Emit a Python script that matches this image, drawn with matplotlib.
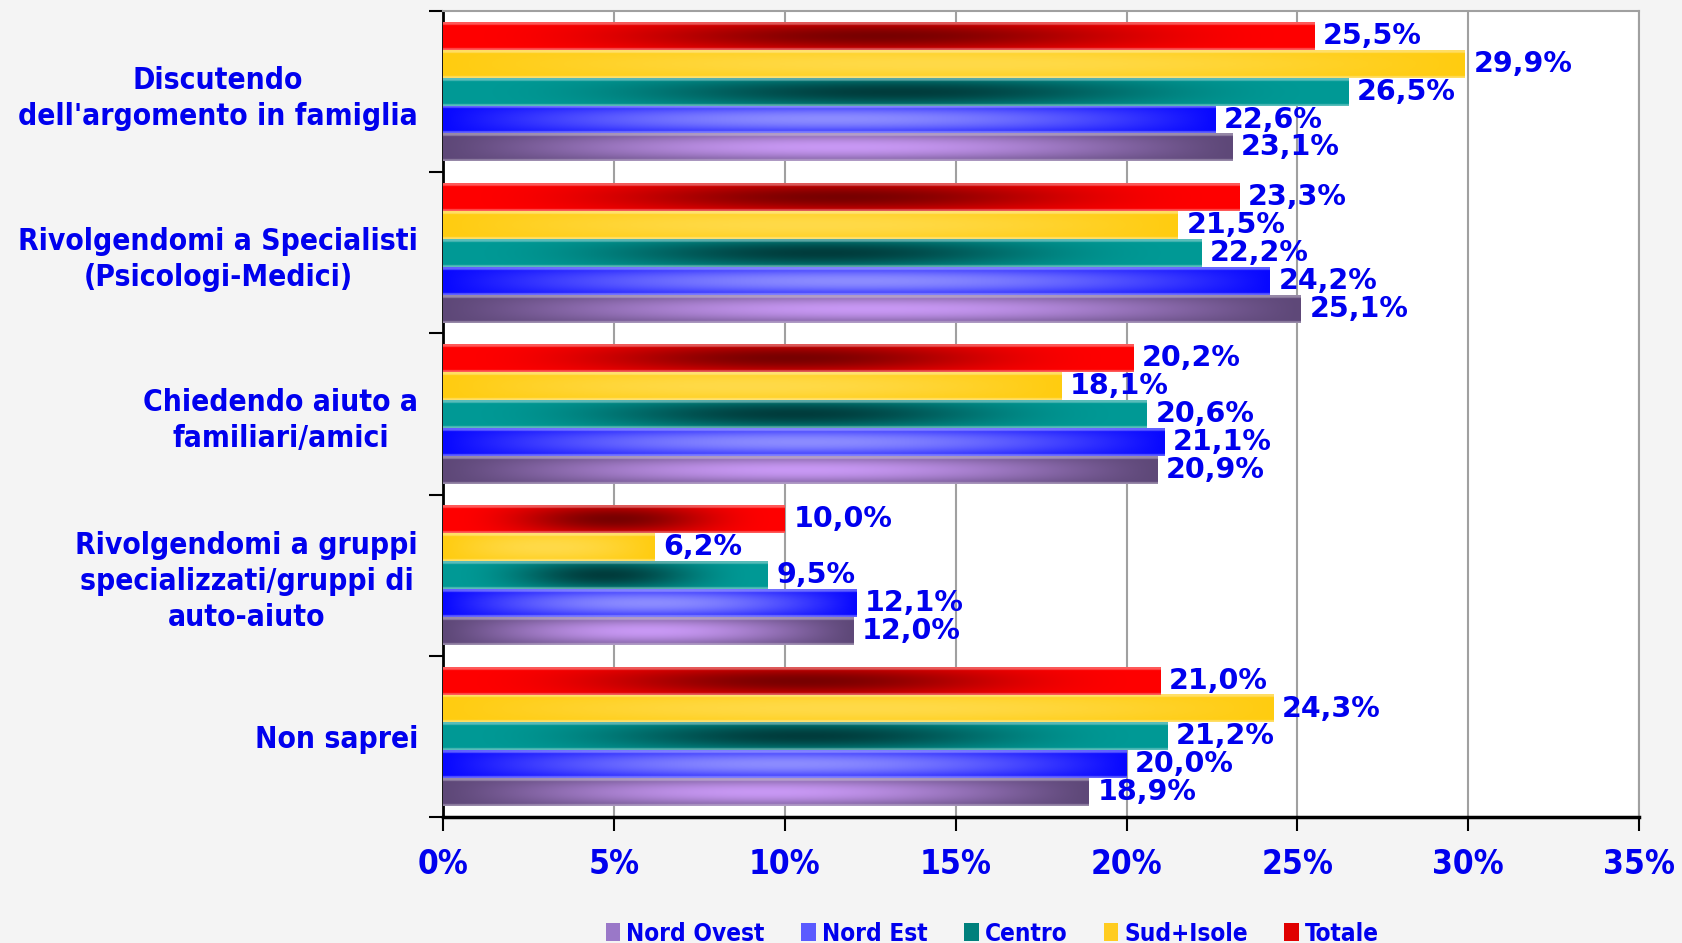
import numpy as np
import matplotlib
matplotlib.use("Agg")
import matplotlib.pyplot as plt
from matplotlib import font_manager
from matplotlib.font_manager import FontProperties
from matplotlib.colors import to_rgb
from matplotlib.patches import Patch

categories = [
    "Discutendo\ndell'argomento in famiglia",
    "Rivolgendomi a Specialisti\n(Psicologi-Medici)",
    "Chiedendo aiuto a\nfamiliari/amici",
    "Rivolgendomi a gruppi\nspecializzati/gruppi di\nauto-aiuto",
    "Non saprei",
]
series = ["Nord Ovest", "Nord Est", "Centro", "Sud+Isole", "Totale"]
nord_ovest = [23.1, 25.1, 20.9, 12.0, 18.9]
nord_est = [22.6, 24.2, 21.1, 12.1, 20.0]
centro = [26.5, 22.2, 20.6, 9.5, 21.2]
sud_isole = [29.9, 21.5, 18.1, 6.2, 24.3]
totale = [25.5, 23.3, 20.2, 10.0, 21.0]
values = [nord_ovest, nord_est, centro, sud_isole, totale]
xticks = [0, 5, 10, 15, 20, 25, 30, 35]

# edge colour, centre colour, horizontal sharpness of the shading
shades = {
    "Nord Ovest": ("#5e4878", "#c898f4", 1.2),
    "Nord Est": ("#0808ff", "#8c8cff", 1.0),
    "Centro": ("#009a96", "#003c3c", 2.5),
    "Sud+Isole": ("#ffcc10", "#ffda48", 1.0),
    "Totale": ("#ff0000", "#780000", 2.5),
}
legend_col = {"Nord Ovest": "#9a78c8", "Nord Est": "#5a5aff", "Centro": "#00807c",
              "Sud+Isole": "#ffcc20", "Totale": "#e00000"}
blue = "#0000ee"


def narrow_bold():
    # a condensed bold face for the axis text, plain bold sans otherwise
    cands = []
    for f in font_manager.fontManager.ttflist:
        w = f.weight if isinstance(f.weight, int) else {"bold": 700}.get(f.weight, 400)
        narrow = ("Narrow" in f.name or "Condensed" in f.name
                  or str(f.stretch) in ("condensed", "semi-condensed", "extra-condensed"))
        if narrow and w >= 600 and f.style == "normal":
            rank = 0 if "Liberation" in f.name else 1 if "DejaVu" in f.name else 2
            cands.append((rank, f.fname))
    if cands:
        return sorted(cands)[0][1]
    return font_manager.findfont(FontProperties(family="Liberation Sans", weight="bold"))


narrow_file = narrow_bold()


def fp(size):
    return FontProperties(fname=narrow_file, size=size)


fig = plt.figure(figsize=(16.82, 9.43), dpi=100, facecolor="#f4f4f4")
ax = fig.add_axes([0.2634, 0.1336, 0.7111, 0.8547])
ax.set_facecolor("white")

h = 0.173
y = np.arange(len(categories))
for k, name in enumerate(series):
    bars = ax.barh(y + (2 - k) * h, values[k], height=h, color=shades[name][0],
                   linewidth=0, zorder=2)
    c_edge, c_mid, p = shades[name]
    c_edge, c_mid = np.array(to_rgb(c_edge)), np.array(to_rgb(c_mid))
    for bar, v in zip(bars, values[k]):
        x0, y0, w, hh = bar.get_x(), bar.get_y(), bar.get_width(), bar.get_height()
        u = np.linspace(0, 1, 200)[None, :]
        t = np.linspace(0, 1, 30)[:, None]
        wgt = np.sin(np.pi * u) ** p * (0.35 + 0.65 * np.sin(np.pi * t))
        img = c_edge + (c_mid - c_edge) * wgt[..., None]
        # light rim along the long edges
        rim = ((t < 0.07) | (t > 0.94)).astype(float) * 0.35
        img = img + (1 - img) * rim[..., None]
        ax.imshow(np.clip(img, 0, 1), extent=[x0, x0 + w, y0 + hh, y0],
                  aspect="auto", interpolation="bicubic", zorder=3)
        ax.text(v + 0.25, bar.get_y() + hh / 2, f"{v:.1f}%".replace(".", ","),
                va="center", ha="left", color=blue, fontsize=20.5,
                fontweight="bold", family="DejaVu Sans", zorder=4)

ax.set_xlim(0, 35)
ax.set_ylim(len(categories) - 0.5, -0.5)
ax.set_xticks(xticks)
ax.set_xticklabels([f"{t}%" for t in xticks], color=blue, fontproperties=fp(24))
ax.tick_params(axis="x", direction="out", length=10, width=1.5, pad=12)

ax.set_yticks(np.arange(-0.5, len(categories)), labels=[])
ax.set_yticks(y, minor=True)
ax.set_yticklabels(categories, minor=True, color=blue, fontproperties=fp(21.5),
                   multialignment="center", linespacing=1.3)
ax.tick_params(axis="y", which="major", direction="out", length=10, width=1.5)
ax.tick_params(axis="y", which="minor", length=0, pad=18)

ax.grid(axis="x", color="#a0a0a0", linewidth=1.5, zorder=0)
ax.set_axisbelow(True)
for s in ("top", "right"):
    ax.spines[s].set_color("#a0a0a0")
    ax.spines[s].set_linewidth(1.5)
ax.spines["left"].set_linewidth(2)
ax.spines["bottom"].set_linewidth(2.5)

handles = [Patch(facecolor=legend_col[n], edgecolor="none") for n in series]
fig.legend(handles, series, loc="center", bbox_to_anchor=(0.59, 0.01), ncol=5,
           frameon=False, handlelength=0.6, handleheight=0.8, handletextpad=0.25,
           columnspacing=1.5, prop=fp(17.5), labelcolor=blue)

fig.savefig("out.png", dpi=100, facecolor=fig.get_facecolor())
